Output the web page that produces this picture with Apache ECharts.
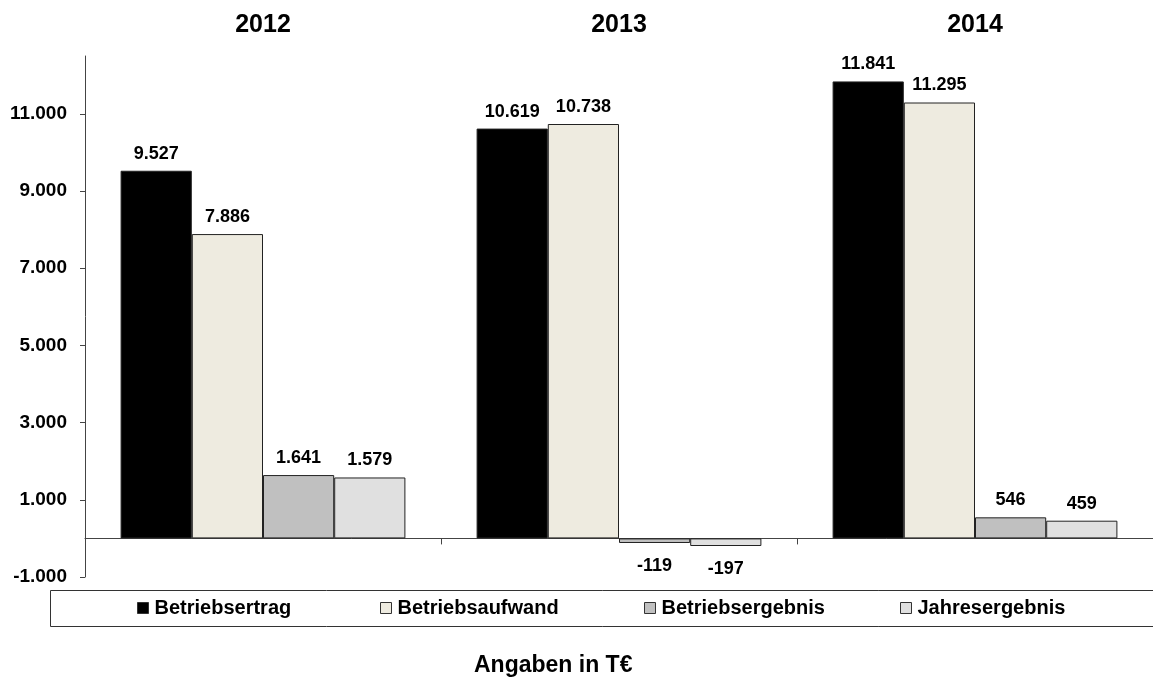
<!DOCTYPE html>
<html>
<head>
<meta charset="utf-8">
<script src="https://cdn.jsdelivr.net/npm/echarts@6/dist/echarts.min.js"></script>
<style>html,body{margin:0;padding:0;background:#fff}#c{width:1153px;height:679px}</style>
</head>
<body>
<div id="c"></div>
<script>
const categories = ['2012', '2013', '2014'];
const seriesNames = ['Betriebsertrag', 'Betriebsaufwand', 'Betriebsergebnis', 'Jahresergebnis'];
const betriebsertrag = [9527, 10619, 11841];
const betriebsaufwand = [7886, 10738, 11295];
const betriebsergebnis = [1641, -119, 546];
const jahresergebnis = [1579, -197, 459];
const yTicks = [-1000, 1000, 3000, 5000, 7000, 9000, 11000];
const axisTitle = 'Angaben in T€';

const FONT = '"Liberation Sans", Arial, sans-serif';
const colors = ['#000000', '#EEEBE0', '#C0C0C0', '#E0E0E0'];
const legendLefts = [137, 380, 644, 900];

function fmt(v) {
  const s = Math.abs(v).toString().replace(/\B(?=(\d{3})+(?!\d))/g, '.');
  return (v < 0 ? '-' : '') + s;
}

function toData(arr) {
  return arr.map(v => v < 0
    ? { value: v, label: { position: 'bottom', distance: 14 } }
    : { value: v });
}

const allSeries = [betriebsertrag, betriebsaufwand, betriebsergebnis, jahresergebnis].map((arr, i) => ({
  name: seriesNames[i],
  type: 'bar',
  xAxisIndex: 0,
  barGap: '0%',
  barCategoryGap: '20%',
  data: toData(arr),
  itemStyle: { color: colors[i], borderColor: '#222', borderWidth: 1 },
  label: {
    show: true,
    position: 'top',
    distance: 8,
    formatter: p => fmt(p.value),
    fontFamily: FONT,
    fontWeight: 'bold',
    fontSize: 18,
    color: '#000'
  }
}));

const legends = seriesNames.map((n, i) => ({
  data: [n],
  left: legendLefts[i],
  top: 598,
  padding: 0,
  itemWidth: 11,
  itemHeight: 11,
  icon: 'rect',
  itemStyle: { borderColor: '#333', borderWidth: 1 },
  textStyle: { fontFamily: FONT, fontWeight: 'bold', fontSize: 20, color: '#000', padding: [0, 0, 0, 1] }
}));

const chart = echarts.init(document.getElementById('c'), null, { renderer: 'canvas' });
chart.setOption({
  animation: false,
  backgroundColor: '#fff',
  textStyle: { fontFamily: FONT },
  title: {
    text: axisTitle,
    left: 474,
    top: 654,
    padding: 0,
    textStyle: { fontFamily: FONT, fontWeight: 'bold', fontSize: 23, color: '#000' }
  },
  graphic: [{
    type: 'rect',
    shape: { x: 50.5, y: 590.5, width: 1120, height: 36 },
    style: { fill: 'none', stroke: '#333', lineWidth: 1 },
    z: 0
  }],
  legend: legends,
  grid: { left: 85, right: 0, top: 56, height: 521, containLabel: false },
  xAxis: [{
    type: 'category',
    data: categories,
    position: 'bottom',
    axisLine: { onZero: true, lineStyle: { color: '#444', width: 1 } },
    axisTick: { show: true, length: 6, lineStyle: { color: '#444' } },
    axisLabel: { show: false }
  }, {
    type: 'category',
    data: categories,
    position: 'top',
    axisLine: { show: false },
    axisTick: { show: false },
    axisLabel: { show: true, margin: 18, fontFamily: FONT, fontWeight: 'bold', fontSize: 25, color: '#000' }
  }],
  yAxis: {
    type: 'value',
    min: -1000,
    max: 12500,
    splitLine: { show: false },
    axisLine: { show: true, lineStyle: { color: '#444', width: 1 } },
    axisTick: { show: true, length: 5, customValues: yTicks, lineStyle: { color: '#444' } },
    axisLabel: {
      show: true,
      customValues: yTicks,
      margin: 18,
      formatter: v => fmt(v),
      fontFamily: FONT,
      fontWeight: 'bold',
      fontSize: 19,
      color: '#000'
    }
  },
  series: allSeries
});
</script>
</body>
</html>
